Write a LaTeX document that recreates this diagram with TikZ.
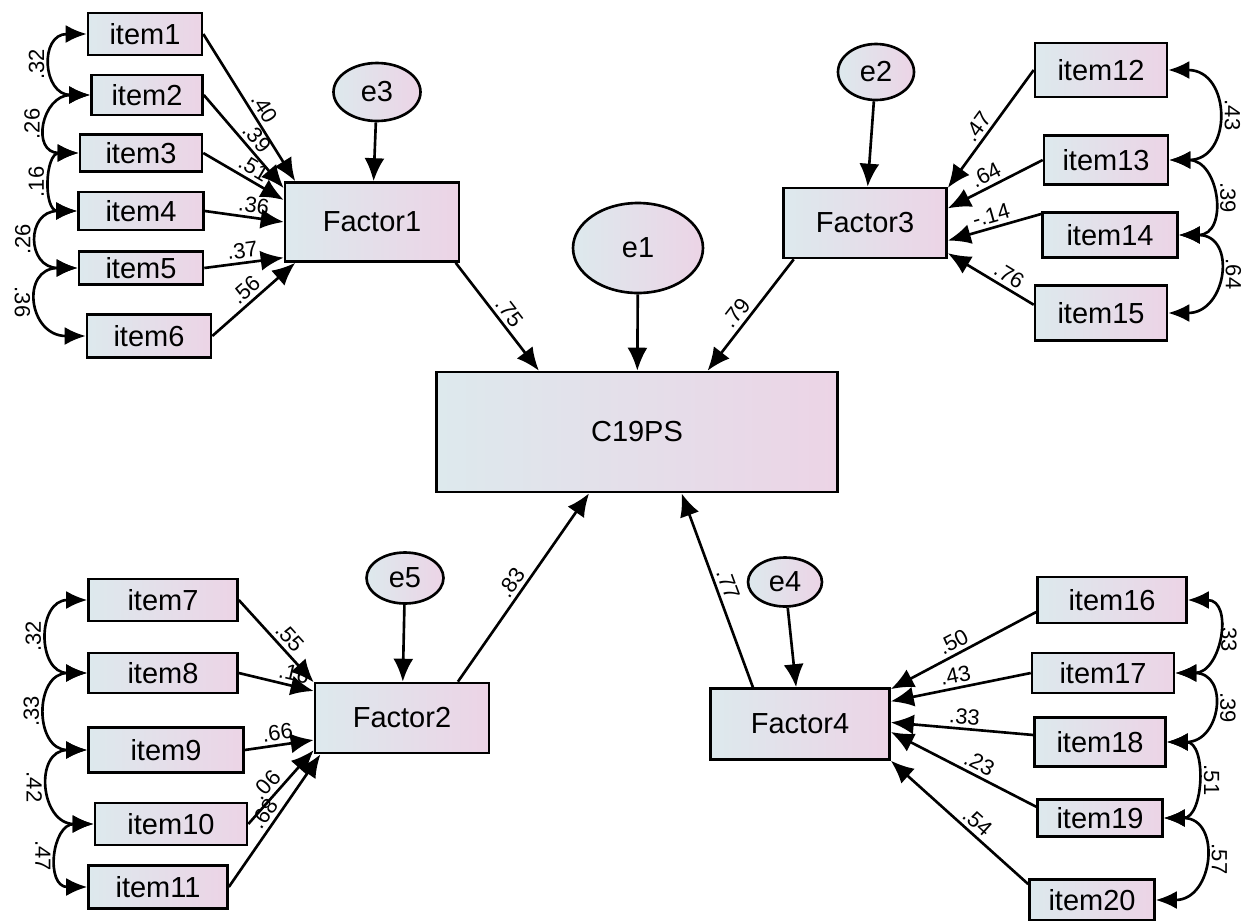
\documentclass[tikz,border=0pt]{standalone}
\usepackage{fontspec}
\setmainfont{Liberation Sans}
\usetikzlibrary{arrows.meta,%
	shapes.geometric}
\definecolor{boxleft}{RGB}{221,233,237}
\definecolor{boxright}{RGB}{236,212,230}

\begin{document}
\begin{tikzpicture}[x=0.02cm,y=-0.02cm,line width=1.5pt,
	obs_node/.style={rectangle,draw,left color=boxleft,right color=boxright,font=\fontsize{16.5}{19}\selectfont,inner sep=0pt},
	err_node/.style={ellipse,draw,left color=boxleft,right color=boxright,font=\fontsize{16.5}{19}\selectfont,inner sep=0pt},
	wh/.style 2 args={minimum width=#1cm,minimum height=#2cm},
	path_arrow/.style={-{Latex[length=4.6mm,width=4mm]}},
	cov_arrow/.style={{Latex[length=4.2mm,width=3.6mm]}-{Latex[length=4.2mm,width=3.6mm]},out=#1,in=#1},
	lbl/.style={sloped,above,font=\fontsize{12.5}{14}\selectfont,inner sep=2pt},
	cov_lbl/.style={midway,font=\fontsize{12.5}{14}\selectfont,inner sep=4pt}]

		\useasboundingbox (0,0) rectangle (1244,920);

		\node[obs_node,wh={8.02}{2.40}] (c) at (637,432) {C19PS};
		\node[obs_node,wh={3.48}{1.58}] (f1) at (372,222) {Factor1};
		\node[obs_node,wh={3.48}{1.40}] (f2) at (402,718) {Factor2};
		\node[obs_node,wh={3.26}{1.40}] (f3) at (865,223) {Factor3};
		\node[obs_node,wh={3.58}{1.42}] (f4) at (800,724) {Factor4};

		\node[err_node,wh={2.60}{1.80}] (e1) at (638,248) {e1};
		\node[err_node,wh={1.52}{1.12}] (e2) at (876,72) {e2};
		\node[err_node,wh={1.74}{1.16}] (e3) at (377,92) {e3};
		\node[err_node,wh={1.48}{0.98}] (e4) at (785,582) {e4};
		\node[err_node,wh={1.54}{1.02}] (e5) at (405,578) {e5};

		\node[obs_node,wh={2.28}{0.84}] (i1) at (145,34) {item1};
		\node[obs_node,wh={2.22}{0.80}] (i2) at (147,95) {item2};
		\node[obs_node,wh={2.44}{0.74}] (i3) at (141,153) {item3};
		\node[obs_node,wh={2.50}{0.76}] (i4) at (141,211) {item4};
		\node[obs_node,wh={2.48}{0.66}] (i5) at (141,268) {item5};
		\node[obs_node,wh={2.48}{0.86}] (i6) at (149,336) {item6};
		\node[obs_node,wh={2.98}{0.84}] (i7) at (163,600) {item7};
		\node[obs_node,wh={2.98}{0.80}] (i8) at (163,673) {item8};
		\node[obs_node,wh={3.10}{0.90}] (i9) at (166,750) {item9};
		\node[obs_node,wh={3.04}{0.84}] (i10) at (171,824) {item10};
		\node[obs_node,wh={2.78}{0.86}] (i11) at (158,887) {item11};
		\node[obs_node,wh={2.64}{1.08}] (i12) at (1101,70) {item12};
		\node[obs_node,wh={2.48}{0.98}] (i13) at (1106,160) {item13};
		\node[obs_node,wh={2.70}{0.90}] (i14) at (1110,235) {item14};
		\node[obs_node,wh={2.64}{1.10}] (i15) at (1101,313) {item15};
		\node[obs_node,wh={2.98}{0.92}] (i16) at (1112,600) {item16};
		\node[obs_node,wh={2.84}{0.80}] (i17) at (1103,673) {item17};
		\node[obs_node,wh={2.62}{0.98}] (i18) at (1100,742) {item18};
		\node[obs_node,wh={2.50}{0.74}] (i19) at (1100,818) {item19};
		\node[obs_node,wh={2.50}{0.82}] (i20) at (1092,900) {item20};

		% error terms
		\draw (e1) edge[path_arrow] (c);
		\draw (e2) edge[path_arrow] (f3);
		\draw (e3) edge[path_arrow] (f1);
		\draw (e4) edge[path_arrow] (f4);
		\draw (e5) edge[path_arrow] (f2);

		% factors to C19PS
		\draw (f1.-26) edge[path_arrow] node[lbl,pos=.53]{.75} (c.148);
		\draw (f3.207) edge[path_arrow] node[lbl,pos=.55]{.79} (c.41);
		\draw (f2.33) edge[path_arrow] node[lbl,pos=.49]{.83} (c.232);
		\draw (f4.142) edge[path_arrow] node[lbl,pos=.51]{.77} (c.-54);

		% Factor1
		\draw (i1.east) edge[path_arrow] node[lbl,pos=.55]{.40} (f1.152);
		\draw (i2.east) edge[path_arrow] node[lbl,pos=.55]{.39} (f1.159);
		\draw (i3.east) edge[path_arrow] node[lbl,pos=.55]{.51} (f1.166);
		\draw (i4.east) edge[path_arrow] node[lbl,pos=.6]{.36} (f1.180);
		\draw (i5.east) edge[path_arrow] node[lbl,pos=.5]{.37} (f1.202);
		\draw (i6.east) edge[path_arrow] node[lbl,pos=.5]{.56} (f1.208);

		% Factor3
		\draw (i12.west) edge[path_arrow] node[lbl,pos=.54]{.47} (f3.23);
		\draw (i13.west) edge[path_arrow] node[lbl,pos=.54]{.64} (f3.10);
		\draw (i14.163) edge[path_arrow] node[lbl,pos=.5]{-.14} (f3.-12);
		\draw (i15.173) edge[path_arrow] node[lbl,pos=.36]{.76} (f3.-20);

		% Factor2
		\draw (i7.east) edge[path_arrow] node[lbl,pos=.56]{.55} (f2.158);
		\draw (i8.east) edge[path_arrow] node[lbl,pos=.7]{.16} (f2.163);
		\draw (i9.east) edge[path_arrow] node[lbl,pos=.5]{.66} (f2.194);
		\draw (i10.east) edge[path_arrow] node[lbl,pos=.42]{.06} (f2.200);
		\draw (i11.east) edge[path_arrow] node[lbl,pos=.5]{.68} (f2.204);

		% Factor4
		\draw (i16.189) edge[path_arrow] node[lbl,pos=.53]{.50} (f4.21);
		\draw (i17.west) edge[path_arrow] node[lbl,pos=.52]{.43} (f4.14);
		\draw (i18.174) edge[path_arrow] node[lbl,pos=.49]{.33} (f4.1);
		\draw (i19.170) edge[path_arrow] node[lbl,pos=.43]{.23} (f4.-5);
		\draw (i20.166) edge[path_arrow] node[lbl,pos=.43]{.54} (f4.-22);

		% covariances
		\draw (i1.west) edge[cov_arrow=180,looseness=2.0] node[cov_lbl,rotate=90,anchor=south]{.32} (i2.west);
		\draw (i2.west) edge[cov_arrow=180,looseness=2.1] node[cov_lbl,rotate=90,anchor=south]{.26} (i3.west);
		\draw (i3.west) edge[cov_arrow=180,looseness=1.5] node[cov_lbl,rotate=90,anchor=south]{.16} (i4.west);
		\draw (i4.west) edge[cov_arrow=180,looseness=2.3] node[cov_lbl,rotate=90,anchor=south]{.26} (i5.west);
		\draw (i5.west) edge[cov_arrow=180,looseness=2.15] node[cov_lbl,rotate=-90,anchor=north]{.36} (i6.west);

		\draw (i7.west) edge[cov_arrow=180,looseness=1.77] node[cov_lbl,rotate=90,anchor=south]{.32} (i8.west);
		\draw (i8.west) edge[cov_arrow=180,looseness=1.77] node[cov_lbl,rotate=90,anchor=south]{.33} (i9.west);
		\draw (i9.west) edge[cov_arrow=180,looseness=1.85] node[cov_lbl,rotate=-90,anchor=north]{.42} (i10.west);
		\draw (i10.west) edge[cov_arrow=180,looseness=1.7] node[cov_lbl,rotate=-90,anchor=north]{.47} (i11.west);

		\draw (i12.east) edge[cov_arrow=0,looseness=1.8] node[cov_lbl,rotate=-90,anchor=south]{.43} (i13.east);
		\draw (i13.east) edge[cov_arrow=0,looseness=1.7] node[cov_lbl,rotate=-90,anchor=south]{.39} (i14.east);
		\draw (i14.east) edge[cov_arrow=0,looseness=1.9] node[cov_lbl,rotate=-90,anchor=south]{.64} (i15.east);

		\draw (i16.east) edge[cov_arrow=0,looseness=1.6] node[cov_lbl,rotate=-90,anchor=south,inner sep=2pt]{.33} (i17.east);
		\draw (i17.east) edge[cov_arrow=0,looseness=2.0] node[cov_lbl,rotate=-90,anchor=south]{.39} (i18.east);
		\draw (i18.east) edge[cov_arrow=0,looseness=1.35] node[cov_lbl,rotate=-90,anchor=south]{.51} (i19.east);
		\draw (i19.east) edge[cov_arrow=0,looseness=1.8] node[cov_lbl,rotate=-90,anchor=south]{.57} (i20.east);
\end{tikzpicture}
\end{document}
